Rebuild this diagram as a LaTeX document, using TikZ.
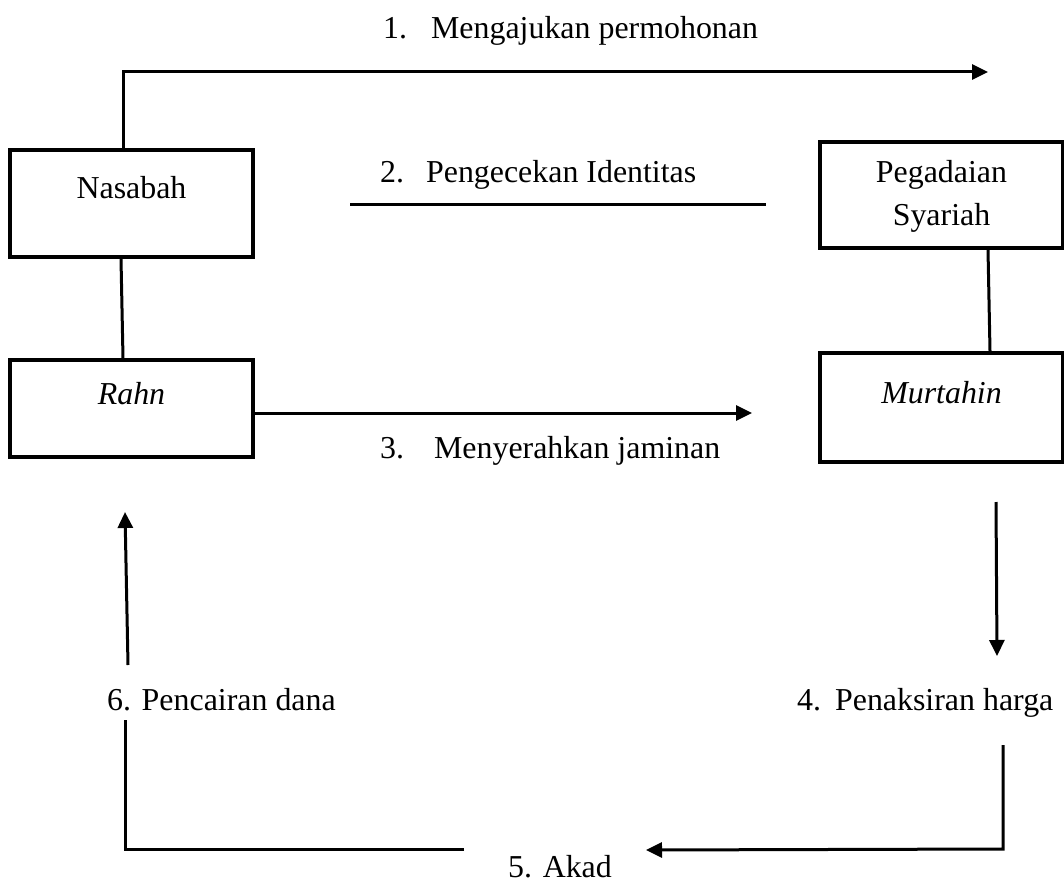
\documentclass[tikz,border=0pt]{standalone}
\usepackage{fontspec}
\setmainfont{Liberation Serif}
\usetikzlibrary{arrows.meta}
\begin{document}
\begin{tikzpicture}[x=1pt,y=-1pt,
  box/.style={draw,line width=3.5pt,inner sep=0pt,minimum width=243pt},
  txt/.style={inner sep=0pt,font=\fontsize{31.9}{38}\selectfont},
  conn/.style={line width=3pt},
  arr/.style={line width=3pt,-{Triangle[length=16pt,width=15pt]}}]
\useasboundingbox (0,0) rectangle (1064,882);
% boxes
\node[box,minimum height=107pt] (nas) at (131.5,203.5) {};
\node[box,minimum height=97pt] (rahn) at (131.5,408.5) {};
\node[box,minimum height=106pt] (peg) at (941.5,195) {};
\node[box,minimum height=109pt] (mur) at (941.5,407.5) {};
% box texts
\node[txt,anchor=base] (tnas) at (131.5,199) {Nasabah};
\node[txt,anchor=base] (trahn) at (131.5,404) {\itshape Rahn};
\node[txt,anchor=base] (tpeg1) at (941.5,183) {Pegadaian};
\node[txt,anchor=base] (tpeg2) at (941.5,226) {Syariah};
\node[txt,anchor=base] (tmur) at (941.5,403) {\itshape Murtahin};
% step labels
\node[txt,anchor=base west] (l1) at (383,39) {1.\hspace{24pt}Mengajukan permohonan};
\node[txt,anchor=base west] (l2) at (380,183) {2.\hspace{22pt}Pengecekan Identitas};
\node[txt,anchor=base west] (l3) at (380,458) {3.\hspace{30pt}Menyerahkan jaminan};
\node[txt,anchor=base west] (l4) at (797,710) {4.\hspace{14pt}Penaksiran harga};
\node[txt,anchor=base west] (l5) at (508,877) {5. Akad};
\node[txt,anchor=base west] (l6) at (107,710) {6. Pencairan dana};
% coordinates
\coordinate (c1a) at (123,72);
\coordinate (c1b) at (988,72);
\coordinate (c2a) at (350,205);
\coordinate (c2b) at (766,205);
\coordinate (c3b) at (752,413);
\coordinate (c4a) at (996,502);
\coordinate (c4b) at (997,656);
\coordinate (c5a) at (1003,745);
\coordinate (c5b) at (1003,849);
\coordinate (c5c) at (646,850);
\coordinate (c6a) at (464,849);
\coordinate (c6b) at (125,849);
\coordinate (c6c) at (125,720);
\coordinate (c7a) at (128,665);
\coordinate (c7b) at (125,512);
% connectors
\draw[arr] (nas.north -| c1a) -- (c1a) -- (c1b);
\draw[conn] (c2a) -- (c2b);
\draw[conn] (nas.south -| 121,0) -- (rahn.north -| 123,0);
\draw[conn] (peg.south -| 988,0) -- (mur.north -| 990,0);
\draw[arr] (rahn.east |- c3b) -- (c3b);
\draw[arr] (c4a) -- (c4b);
\draw[arr] (c5a) -- (c5b) -- (c5c);
\draw[conn] (c6a) -- (c6b) -- (c6c);
\draw[arr] (c7a) -- (c7b);
\end{tikzpicture}
\end{document}
